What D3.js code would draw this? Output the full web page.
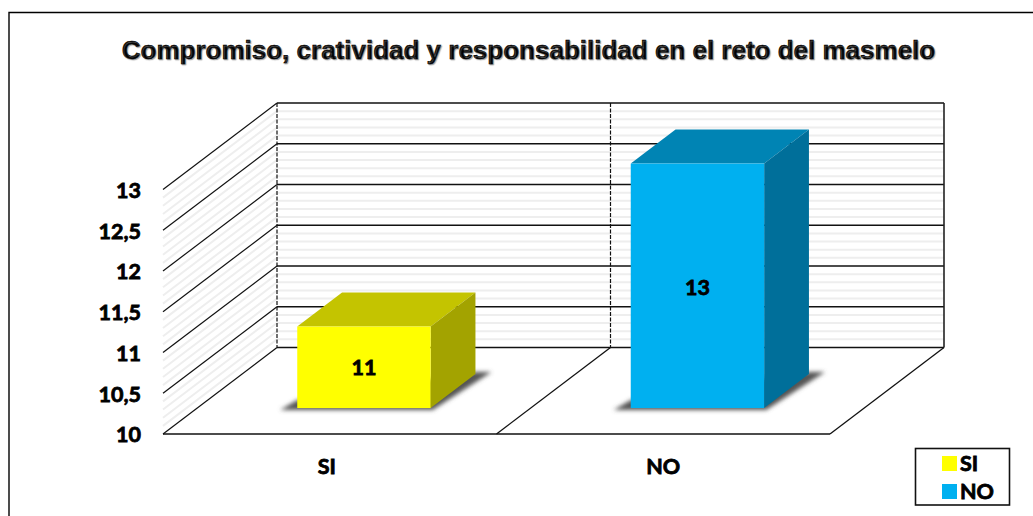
<!DOCTYPE html>
<html>
  <head>
    <title></title>
    <meta charset="UTF-8" />
    <script src="https://d3js.org/d3.v7.min.js"></script>
    <style>
      html, body { margin: 0; padding: 0; background: #fff; overflow: hidden; }
      svg { display: block; }
      .tick-label { font-family: Lato, sans-serif; font-weight: 700; font-size: 21.5px; fill: #000; stroke: #000; stroke-width: 0.8px; }
    </style>
  </head>
  <body>
    <svg width="1033" height="516"></svg>
    <script>
      // data
      const titleText = "Compromiso, cratividad y responsabilidad en el reto del masmelo"
      const categories = ["SI", "NO"]
      const values = [11, 13]
      const yTicks = [10, 10.5, 11, 11.5, 12, 12.5, 13]

      const frontColors = ["#ffff00", "#00b0f0"]
      const topColors = ["#c4c400", "#0084b4"]
      const sideColors = ["#a3a300", "#006f9a"]

      const svg = d3.select("svg")

      // 1. scales: front edge of the floor, plus a depth offset for the 3d look
      const depthX = 114
      const depthY = 86.5
      const barDepthStart = 0.3
      const barDepthEnd = 0.693

      const xScale = d3
        .scaleBand()
        .domain(categories)
        .range([163, 830])
        .paddingInner(0.6)
        .paddingOuter(0.3)
      const yScale = d3.scaleLinear().domain([10, 13]).range([434, 189.5])

      const px = (x, depth) => x + depth * depthX
      const py = (v, depth) => yScale(v) - depth * depthY
      const xLeft = xScale.range()[0]
      const xRight = xScale.range()[1]
      const xMiddle = xScale.step() + xLeft
      const minorTicks = yScale.ticks(30).filter((d) => Math.round(d * 10) % 5 !== 0)

      // filter for the bar shadows
      svg
        .append("defs")
        .append("filter")
        .attr("id", "blur")
        .attr("x", "-20%")
        .attr("y", "-30%")
        .attr("width", "140%")
        .attr("height", "160%")
        .append("feGaussianBlur")
        .attr("stdDeviation", 2)

      // 2. outer frame, runs off the right and bottom of the picture
      svg
        .append("path")
        .attr("d", "M9,516V12.5H1033")
        .attr("fill", "none")
        .attr("stroke", "#000")
        .attr("stroke-width", 1.4)

      // 3. title
      svg
        .append("text")
        .attr("x", 528.5)
        .attr("y", 59)
        .attr("text-anchor", "middle")
        .style("font-family", "'Liberation Sans', Arial, sans-serif")
        .style("font-weight", 700)
        .style("font-size", "26px")
        .style("stroke", "#000")
        .style("stroke-width", "0.5px")
        .style("text-shadow", "1px 1px 1px #999")
        .text(titleText)

      // 4. walls: light lines first, then the main gridlines
      const wall = svg.append("g").attr("fill", "none")
      wall
        .selectAll(".minor-back")
        .data(minorTicks)
        .enter()
        .append("line")
        .attr("x1", px(xLeft, 1))
        .attr("x2", px(xRight, 1))
        .attr("y1", (d) => py(d, 1))
        .attr("y2", (d) => py(d, 1))
        .attr("stroke", "#eeeeee")
        .attr("stroke-width", 2)
      wall
        .selectAll(".minor-side")
        .data(minorTicks)
        .enter()
        .append("line")
        .attr("x1", px(xLeft, 0))
        .attr("x2", px(xLeft, 1))
        .attr("y1", (d) => py(d, 0))
        .attr("y2", (d) => py(d, 1))
        .attr("stroke", "#eeeeee")
        .attr("stroke-width", 2)
      wall
        .selectAll(".major-back")
        .data(yTicks)
        .enter()
        .append("line")
        .attr("x1", px(xLeft, 1))
        .attr("x2", px(xRight, 1))
        .attr("y1", (d) => py(d, 1))
        .attr("y2", (d) => py(d, 1))
        .attr("stroke", "#111")
        .attr("stroke-width", 1.4)
      wall
        .selectAll(".major-side")
        .data(yTicks)
        .enter()
        .append("line")
        .attr("x1", px(xLeft, 0))
        .attr("x2", px(xLeft, 1))
        .attr("y1", (d) => py(d, 0))
        .attr("y2", (d) => py(d, 1))
        .attr("stroke", "#111")
        .attr("stroke-width", 1.2)

      // dashed dividers on the back wall, solid right edge
      wall
        .selectAll(".divider")
        .data([xLeft, xMiddle])
        .enter()
        .append("line")
        .attr("x1", (d) => px(d, 1))
        .attr("x2", (d) => px(d, 1))
        .attr("y1", py(13, 1))
        .attr("y2", py(10, 1))
        .attr("stroke", "#111")
        .attr("stroke-width", 1.2)
        .attr("stroke-dasharray", "4,1.5")
      wall
        .append("line")
        .attr("x1", px(xRight, 1))
        .attr("x2", px(xRight, 1))
        .attr("y1", py(13, 1))
        .attr("y2", py(10, 1))
        .attr("stroke", "#222")
        .attr("stroke-width", 1.6)

      // 5. floor
      const floor = svg.append("g").attr("stroke", "#111").attr("stroke-width", 1.3)
      floor
        .selectAll(".floor-edge")
        .data([xMiddle, xRight])
        .enter()
        .append("line")
        .attr("x1", (d) => px(d, 0))
        .attr("x2", (d) => px(d, 1))
        .attr("y1", py(10, 0))
        .attr("y2", py(10, 1))
      floor
        .append("line")
        .attr("x1", xLeft)
        .attr("x2", xRight)
        .attr("y1", py(10, 0))
        .attr("y2", py(10, 0))
        .attr("stroke-width", 1.6)

      // 6. bars
      const line = d3.line()
      const gs = svg
        .selectAll(".bar")
        .data(categories.map((c, i) => ({ c, i, v: values[i] })))
        .enter()
        .append("g")

      const x0 = (d) => xScale(d.c)
      const x1 = (d) => xScale(d.c) + xScale.bandwidth()

      gs.append("path") // shadow on the floor
        .attr("d", (d) =>
          line([
            [px(x0(d), barDepthStart) - 17, py(10, barDepthStart) + 2],
            [px(x1(d), barDepthStart) + 2, py(10, barDepthStart) + 2],
            [px(x1(d), barDepthEnd) + 16, py(10, barDepthEnd) - 2],
            [px(x1(d), barDepthEnd), py(10, barDepthEnd) - 2],
            [px(x0(d), barDepthStart), py(10, barDepthStart) - 8],
          ]) + "Z"
        )
        .attr("fill", "#555")
        .attr("filter", "url(#blur)")
      gs.append("path") // top face
        .attr("d", (d) =>
          line([
            [px(x0(d), barDepthStart), py(d.v, barDepthStart)],
            [px(x1(d), barDepthStart), py(d.v, barDepthStart)],
            [px(x1(d), barDepthEnd), py(d.v, barDepthEnd)],
            [px(x0(d), barDepthEnd), py(d.v, barDepthEnd)],
          ]) + "Z"
        )
        .attr("fill", (d) => topColors[d.i])
      gs.append("path") // side face
        .attr("d", (d) =>
          line([
            [px(x1(d), barDepthStart), py(d.v, barDepthStart)],
            [px(x1(d), barDepthEnd), py(d.v, barDepthEnd)],
            [px(x1(d), barDepthEnd), py(10, barDepthEnd)],
            [px(x1(d), barDepthStart), py(10, barDepthStart)],
          ]) + "Z"
        )
        .attr("fill", (d) => sideColors[d.i])
      gs.append("rect") // front face
        .attr("x", (d) => px(x0(d), barDepthStart))
        .attr("y", (d) => py(d.v, barDepthStart))
        .attr("width", xScale.bandwidth())
        .attr("height", (d) => py(10, barDepthStart) - py(d.v, barDepthStart))
        .attr("fill", (d) => frontColors[d.i])
      gs.append("text") // value label
        .attr("class", "tick-label")
        .attr("x", (d) => px(x0(d), barDepthStart) + xScale.bandwidth() / 2)
        .attr("y", (d) => (py(d.v, barDepthStart) + py(10, barDepthStart)) / 2)
        .attr("dy", (d) => (d.v > 12 ? "0.42em" : "0.35em"))
        .attr("text-anchor", "middle")
        .text((d) => d.v)

      // 7. axes
      const yAxis = d3
        .axisLeft(yScale)
        .tickValues(yTicks)
        .tickSize(0)
        .tickPadding(22)
        .tickFormat((d) => String(d).replace(".", ","))
      const yAxisG = svg.append("g").attr("transform", "translate(" + xLeft + ",1)").call(yAxis)
      yAxisG.select(".domain").remove()
      yAxisG.selectAll("text").attr("class", "tick-label").attr("font-size", null).attr("font-family", null)

      const xAxis = d3.axisBottom(xScale).tickSize(0).tickPadding(25)
      const xAxisG = svg.append("g").attr("transform", "translate(0,434)").call(xAxis)
      xAxisG.select(".domain").remove()
      xAxisG
        .selectAll("text")
        .attr("class", "tick-label")
        .attr("dx", (d, i) => (i === 0 ? -3 : 0)) // SI sits a bit left of its band centre

      // 8. legend
      const legend = svg.append("g")
      legend
        .append("rect")
        .attr("x", 915.5)
        .attr("y", 448.5)
        .attr("width", 94)
        .attr("height", 56.5)
        .attr("fill", "#fff")
        .attr("stroke", "#111")
        .attr("stroke-width", 1.6)
      const items = legend
        .selectAll(".item")
        .data(categories)
        .enter()
        .append("g")
        .attr("transform", (d, i) => "translate(942," + (456 + i * 28) + ")")
      items
        .append("rect")
        .attr("width", 15)
        .attr("height", 15)
        .attr("fill", (d, i) => frontColors[i])
      items
        .append("text")
        .attr("class", "tick-label")
        .attr("x", 18)
        .attr("y", 7)
        .attr("dy", "0.35em")
        .text((d) => d)
    </script>
  </body>
</html>
